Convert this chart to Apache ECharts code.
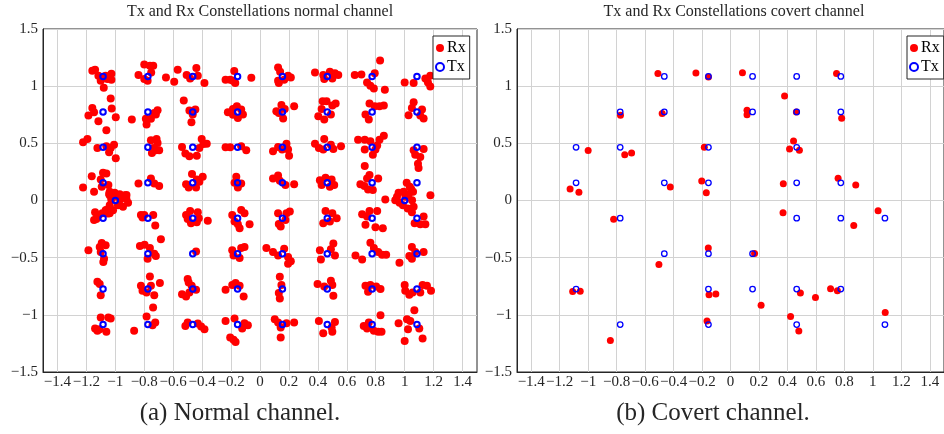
<!DOCTYPE html>
<html>
<head>
<meta charset="utf-8">
<script src="https://cdn.jsdelivr.net/npm/echarts@6/dist/echarts.min.js"></script>
<style>
html,body{margin:0;padding:0;background:#fff;}
#chart{width:944px;height:434px;}
</style>
</head>
<body>
<div id="chart"></div>
<script>
const titles = ['Tx and Rx Constellations normal channel', 'Tx and Rx Constellations covert channel'];
const captions = ['(a) Normal channel.', '(b) Covert channel.'];
const legendNames = ['Rx', 'Tx'];
const xTicks = [-1.4, -1.2, -1, -0.8, -0.6, -0.4, -0.2, 0, 0.2, 0.4, 0.6, 0.8, 1, 1.2, 1.4];
const yTicks = [-1.5, -1, -0.5, 0, 0.5, 1, 1.5];

const normalTx = [
  [-1.085,1.085],[-0.775,1.085],[-0.465,1.085],[-0.155,1.085],[0.155,1.085],[0.465,1.085],[0.775,1.085],[1.085,1.085],
  [-1.085,0.775],[-0.775,0.775],[-0.465,0.775],[-0.155,0.775],[0.155,0.775],[0.465,0.775],[0.775,0.775],[1.085,0.775],
  [-1.085,0.465],[-0.775,0.465],[-0.465,0.465],[-0.155,0.465],[0.155,0.465],[0.465,0.465],[0.775,0.465],[1.085,0.465],
  [-1.085,0.155],[-0.775,0.155],[-0.465,0.155],[-0.155,0.155],[0.155,0.155],[0.465,0.155],[0.775,0.155],[1.085,0.155],
  [-1,0],[1,0],
  [-1.085,-0.155],[-0.775,-0.155],[-0.465,-0.155],[-0.155,-0.155],[0.155,-0.155],[0.465,-0.155],[0.775,-0.155],[1.085,-0.155],
  [-1.085,-0.465],[-0.775,-0.465],[-0.465,-0.465],[-0.155,-0.465],[0.155,-0.465],[0.465,-0.465],[0.775,-0.465],[1.085,-0.465],
  [-1.085,-0.775],[-0.775,-0.775],[-0.465,-0.775],[-0.155,-0.775],[0.155,-0.775],[0.465,-0.775],[0.775,-0.775],[1.085,-0.775],
  [-1.085,-1.085],[-0.775,-1.085],[-0.465,-1.085],[-0.155,-1.085],[0.155,-1.085],[0.465,-1.085],[0.775,-1.085],[1.085,-1.085]
];

const normalRx = [
  [-1.159,1.135],[-1.14,1.143],[-1.117,1.091],[-1.101,1.047],[-1.055,1.062],[-1.027,1.108],[-1.027,1.056],[-1.08,0.986],[-1.067,1.091],
  [-0.8,1.19],[-0.761,1.178],[-0.738,1.178],[-0.84,1.097],[-0.8,1.062],[-0.777,1.047],[-0.752,1.12],[-0.65,1.076],[-0.593,1.038],
  [-0.569,1.143],[-0.507,1.097],[-0.483,1.067],[-0.44,1.158],[-0.43,1.091],[-0.384,1.027],
  [-0.238,1.056],[-0.206,1.056],[-0.178,1.132],[-0.171,1.027],[-0.06,1.073],[-0.187,1.047],
  [0.125,1.164],[0.139,1.126],[0.125,1.047],[0.13,1.027],[0.194,1.091],[0.213,1.076],[0.167,1.056],
  [0.38,1.12],[0.437,1.097],[0.444,1.062],[0.483,1.126],[0.518,1.114],[0.541,1.097],[0.5,1.067],
  [0.655,1.097],[0.701,1.103],[0.74,1.032],[0.763,1.003],[0.793,1.114],[0.787,0.98],[0.83,1.225],[0.863,0.968],
  [1.0,1.032],[1.062,1.027],[1.143,1.067],[1.161,1.032],[1.177,0.997],[1.177,1.091],

  [-1.032,0.892],[-1.159,0.81],[-1.147,0.772],[-1.186,0.743],[-1.117,0.693],[-1.062,0.614],[-1.025,0.804],[-0.997,0.728],
  [-0.886,0.708],[-0.789,0.714],[-0.784,0.664],[-0.754,0.714],[-0.731,0.766],[-0.708,0.79],[-0.72,0.752],
  [-0.527,0.874],[-0.488,0.787],[-0.465,0.752],[-0.474,0.684],[-0.447,0.795],
  [-0.222,0.772],[-0.187,0.801],[-0.16,0.825],[-0.13,0.795],[-0.153,0.722],[-0.187,0.749],[-0.118,0.752],
  [0.113,0.781],[0.13,0.766],[0.148,0.836],[0.171,0.801],[0.16,0.717],[0.236,0.825],
  [0.403,0.737],[0.433,0.868],[0.46,0.868],[0.426,0.801],[0.5,0.83],[0.523,0.848],[0.444,0.708],[0.49,0.752],
  [0.729,0.752],[0.752,0.708],[0.757,0.848],[0.793,0.825],[0.826,0.825],[0.856,0.83],
  [1.027,0.746],[1.05,0.81],[1.062,0.86],[1.108,0.743],[1.131,0.717],[1.12,0.795],

  [-1.223,0.509],[-1.193,0.538],[-1.124,0.459],[-1.062,0.474],[-1.043,0.421],[-1.009,0.488],[-0.997,0.369],[-1.032,0.459],
  [-0.754,0.526],[-0.715,0.538],[-0.708,0.503],[-0.738,0.459],[-0.72,0.439],[-0.697,0.439],[-0.747,0.415],
  [-0.539,0.468],[-0.516,0.41],[-0.488,0.386],[-0.437,0.392],[-0.403,0.538],[-0.391,0.494],[-0.368,0.497],[-0.419,0.459],
  [-0.238,0.465],[-0.206,0.465],[-0.13,0.474],[-0.095,0.439],
  [0.09,0.43],[0.125,0.468],[0.183,0.497],[0.194,0.445],[0.201,0.392],[0.153,0.445],
  [0.38,0.497],[0.407,0.459],[0.444,0.538],[0.437,0.445],[0.507,0.45],[0.56,0.474],[0.49,0.488],
  [0.678,0.532],[0.724,0.532],[0.724,0.445],[0.763,0.518],[0.81,0.48],[0.826,0.532],[0.856,0.567],[0.78,0.401],[0.798,0.445],
  [1.062,0.439],[1.073,0.401],[1.108,0.38],[1.131,0.45],[1.092,0.322],[1.096,0.284],

  [-1.223,0.114],[-1.163,0.213],[-1.147,0.076],[-1.101,0.184],[-1.094,0.12],[-1.085,0.243],[-1.062,0.237],[-1.048,0.135],[-1.043,0.056],
  [-0.84,0.149],[-0.754,0.193],[-0.731,0.149],[-0.697,0.126],
  [-0.511,0.143],[-0.493,0.114],[-0.47,0.231],[-0.437,0.184],[-0.396,0.208],[-0.442,0.114],[-0.419,0.164],
  [-0.164,0.208],[-0.153,0.114],[-0.13,0.149],[-0.176,0.155],
  [0.09,0.193],[0.125,0.219],[0.137,0.172],[0.176,0.135],[0.236,0.143],
  [0.414,0.178],[0.426,0.135],[0.453,0.199],[0.495,0.184],[0.513,0.135],[0.483,0.12],
  [0.694,0.143],[0.722,0.126],[0.74,0.193],[0.757,0.222],[0.747,0.097],[0.78,0.091],[0.817,0.193],[0.724,0.301],

  [-1.039,0.047],[-1.005,0.067],[-0.97,0.055],[-0.935,0.047],[-0.924,0.018],[-0.912,-0.02],[-0.947,-0.055],[-0.982,-0.041],
  [-1.039,-0.041],[-1.067,-0.085],[-1.051,-0.114],[-1.016,-0.085],[-0.965,0.009],[-1.028,0.009],[-0.988,0.032],[-1.039,0.077],[-0.923,0.048],
  [0.947,0.032],[0.958,0.067],[0.993,0.076],[1.028,0.055],[1.058,0.076],[1.051,0.003],[1.062,-0.055],[1.021,-0.07],
  [0.988,-0.041],[0.965,-0.02],[1.005,0.032],[0.866,0.009],[1.178,0.047],[0.935,0.003],[1.014,0.156],[1.035,0.12],[1.045,0.1],

  [-1.14,-0.102],[-1.131,-0.161],[-1.09,-0.111],[-1.062,-0.082],[-1.039,-0.062],[-1.039,-0.111],[-1.117,-0.132],[-1.147,-0.17],
  [-0.823,-0.126],[-0.8,-0.126],[-0.738,-0.126],[-0.724,-0.219],[-0.812,-0.149],
  [-0.511,-0.126],[-0.483,-0.091],[-0.43,-0.102],[-0.423,-0.155],[-0.437,-0.19],[-0.477,-0.199],[-0.361,-0.178],[-0.5,-0.161],
  [-0.192,-0.126],[-0.176,-0.184],[-0.153,-0.208],[-0.141,-0.243],[-0.13,-0.082],[-0.107,-0.111],[-0.072,-0.208],
  [0.125,-0.111],[0.183,-0.111],[0.206,-0.097],[0.13,-0.205],[0.143,-0.228],[0.176,-0.17],
  [0.453,-0.091],[0.5,-0.111],[0.53,-0.155],[0.437,-0.199],[0.483,-0.184],
  [0.706,-0.12],[0.74,-0.14],[0.757,-0.091],[0.81,-0.091],[0.729,-0.213],[0.798,-0.234],[0.849,-0.243],
  [1.05,-0.102],[1.069,-0.199],[1.108,-0.208],[1.143,-0.208],[1.131,-0.14],

  [-1.186,-0.436],[-1.108,-0.407],[-1.094,-0.372],[-1.067,-0.392],[-1.078,-0.509],[-1.083,-0.538],[-1.101,-0.45],
  [-0.83,-0.398],[-0.798,-0.386],[-0.761,-0.415],[-0.731,-0.465],[-0.72,-0.485],[-0.777,-0.509],[-0.685,-0.339],
  [-0.442,-0.445],
  [-0.192,-0.436],[-0.13,-0.415],[-0.107,-0.407],[-0.141,-0.503],[-0.183,-0.48],
  [0.044,-0.415],[0.09,-0.45],[0.125,-0.48],[0.167,-0.421],[0.194,-0.494],[0.213,-0.532],[0.194,-0.553],
  [0.414,-0.436],[0.421,-0.515],[0.507,-0.377],[0.49,-0.427],[0.518,-0.48],
  [0.66,-0.48],[0.706,-0.515],[0.763,-0.369],[0.787,-0.415],[0.817,-0.45],[0.844,-0.474],[0.872,-0.474],[0.964,-0.544],
  [1.032,-0.485],[1.05,-0.407],[1.073,-0.45],[1.131,-0.45],[1.05,-0.509],

  [-1.124,-0.711],[-1.108,-0.731],[-1.101,-0.828],
  [-0.761,-0.664],[-0.823,-0.746],[-0.812,-0.79],[-0.784,-0.804],[-0.731,-0.828],[-0.692,-0.722],[-0.754,-0.746],[-0.739,-0.936],
  [-0.539,-0.819],[-0.511,-0.839],[-0.488,-0.804],[-0.493,-0.717],[-0.472,-0.746],[-0.5,-0.687],[-0.442,-0.781],
  [-0.238,-0.781],[-0.192,-0.74],[-0.169,-0.722],[-0.141,-0.746],[-0.113,-0.839],
  [0.137,-0.667],[0.13,-0.81],[0.137,-0.857],[0.148,-0.74],
  [0.398,-0.731],[0.444,-0.752],[0.49,-0.702],[0.5,-0.74],[0.507,-0.833],
  [0.729,-0.746],[0.763,-0.74],[0.803,-0.752],[0.833,-0.775],[0.747,-0.798],
  [1.0,-0.74],[1.004,-0.79],[1.032,-0.825],[1.055,-0.804],[1.124,-0.74],[1.154,-0.746],[1.182,-0.79],[1.108,-0.804],

  [-1.101,-1.024],[-1.048,-1.024],[-1.032,-1.032],[-1.14,-1.12],[-1.124,-1.14],[-1.062,-1.149],[-1.108,-1.126],
  [-0.784,-1.015],[-0.724,-1.068],[-0.87,-1.14],[-0.743,-1.091],
  [-0.516,-1.097],[-0.5,-1.067],[-0.43,-1.076],[-0.407,-1.103],[-0.384,-1.126],
  [-0.238,-1.053],[-0.176,-1.032],[-0.107,-1.073],[-0.084,-1.091],[-0.123,-1.12],[-0.206,-1.199],[-0.183,-1.219],[-0.169,-1.237],
  [0.102,-1.038],[0.125,-1.068],[0.143,-1.111],[0.183,-1.073],[0.236,-1.068],[0.143,-1.199],
  [0.407,-1.053],[0.437,-1.161],[0.495,-1.111],[0.5,-1.149],[0.518,-1.062],
  [0.717,-1.097],[0.74,-1.12],[0.752,-1.068],[0.787,-1.14],[0.817,-1.149],[0.84,-1.149],[0.833,-1.003],
  [0.958,-1.073],[1.016,-1.038],[1.039,-1.053],[1.067,-0.959],[1.023,-1.126],[1.0,-1.228],[1.101,-1.12],[1.124,-1.208]
];

const covertTx = [
  [-0.465,1.085],[-0.155,1.085],[0.155,1.085],[0.465,1.085],[0.775,1.085],
  [-0.775,0.775],[-0.465,0.775],[0.155,0.775],[0.465,0.775],[0.775,0.775],
  [-1.085,0.465],[-0.775,0.465],[-0.155,0.465],[0.465,0.465],
  [-1.085,0.155],[-0.465,0.155],[-0.155,0.155],[0.465,0.155],[0.775,0.155],
  [-0.775,-0.155],[0.465,-0.155],[0.775,-0.155],[1.085,-0.155],
  [-0.465,-0.465],[-0.155,-0.465],[0.155,-0.465],
  [-1.085,-0.775],[-0.155,-0.775],[0.155,-0.775],[0.465,-0.775],[0.775,-0.775],
  [-0.775,-1.085],[-0.155,-1.085],[0.465,-1.085],[1.085,-1.085]
];

const covertRx = [
  [-0.51,1.11],[-0.243,1.115],[-0.155,1.08],[0.084,1.117],[0.745,1.11],[0.38,0.915],
  [-0.773,0.745],[-0.48,0.76],[0.116,0.79],[0.116,0.75],[0.463,0.775],[0.781,0.72],
  [-1.0,0.437],[-0.743,0.4],[-0.695,0.416],[-0.184,0.465],[0.443,0.521],[0.415,0.451],[0.484,0.44],
  [-1.127,0.1],[-1.065,0.072],[-0.423,0.118],[-0.202,0.171],[-0.17,0.068],[0.371,0.147],[0.756,0.194],[0.88,0.136],
  [-0.821,-0.165],[0.369,-0.107],[0.866,-0.218],[1.037,-0.089],
  [-0.156,-0.416],[-0.503,-0.56],[0.169,-0.463],
  [-1.109,-0.796],[-1.056,-0.793],[-0.151,-0.825],[-0.103,-0.817],[0.215,-0.916],[0.491,-0.81],[0.597,-0.848],[0.703,-0.772],[0.751,-0.79],
  [-0.165,-1.053],[0.422,-1.015],[0.48,-1.141],[1.087,-0.98],[-0.844,-1.225]
];

const FONT = '"Liberation Serif", "Times New Roman", serif';
const TXT = '#262626';

function fmt(v) {
  const s = String(Math.round(v * 10) / 10);
  return s.replace('-', '\u2212');
}

function makeGrid(left, width) {
  return { left: left, top: 29, width: width, height: 343, show: true,
           borderColor: '#262626', borderWidth: 1, backgroundColor: 'transparent' };
}
function makeX(gi) {
  return {
    type: 'value', gridIndex: gi, min: -1.5, max: 1.5,
    axisLine: { show: true, onZero: false, lineStyle: { color: '#262626', width: 1 } },
    axisTick: { show: false, customValues: xTicks },
    axisLabel: { customValues: xTicks, formatter: fmt, fontFamily: FONT, fontSize: 15, color: TXT, margin: 3 },
    splitLine: { show: true, lineStyle: { color: '#d2d2d2', width: 1 } }
  };
}
function makeY(gi) {
  return {
    type: 'value', gridIndex: gi, min: -1.5, max: 1.5,
    axisLine: { show: true, onZero: false, lineStyle: { color: '#262626', width: 1 } },
    axisTick: { show: false, customValues: yTicks },
    axisLabel: { customValues: yTicks, formatter: fmt, fontFamily: FONT, fontSize: 15, color: TXT, margin: 5 },
    splitLine: { show: true, lineStyle: { color: '#d2d2d2', width: 1 } }
  };
}
function makeLegend(left) {
  return {
    data: legendNames, orient: 'vertical', left: left, top: 36,
    padding: [4, 4, 4, 2], itemGap: 3, itemWidth: 8, itemHeight: 8,
    backgroundColor: '#fff', borderColor: '#262626', borderWidth: 1, borderRadius: 0,
    textStyle: { fontFamily: FONT, fontSize: 16, color: '#000', padding: [0, 0, 0, -2] },
    selectedMode: false
  };
}
function textEl(x, y, text, size) {
  return { type: 'text', x: x, y: y, silent: true,
           style: { text: text, textAlign: 'center', textVerticalAlign: 'middle',
                    font: size + 'px ' + FONT, fill: TXT } };
}

const chart = echarts.init(document.getElementById('chart'), null, { renderer: 'canvas' });
chart.setOption({
  animation: false,
  backgroundColor: '#fff',
  grid: [makeGrid(43, 434), makeGrid(517, 434)],
  xAxis: [makeX(0), makeX(1)],
  yAxis: [makeY(0), makeY(1)],
  legend: [makeLegend(433), makeLegend(907)],
  graphic: [
    textEl(260, 12, titles[0], 16),
    textEl(734, 12, titles[1], 16),
    textEl(240, 413, captions[0], 25),
    textEl(713, 413, captions[1], 25)
  ],
  series: [
    { type: 'scatter', name: 'Rx', xAxisIndex: 0, yAxisIndex: 0, data: normalRx, symbol: 'circle', symbolSize: 8,
      itemStyle: { color: '#ff0000', opacity: 1 }, z: 2, silent: true },
    { type: 'scatter', name: 'Tx', xAxisIndex: 0, yAxisIndex: 0, data: normalTx, symbol: 'circle', symbolSize: 5.5,
      itemStyle: { color: 'rgba(255,255,255,0)', borderColor: '#0000ff', borderWidth: 2, opacity: 1 }, z: 3, silent: true },
    { type: 'scatter', name: 'Rx', xAxisIndex: 1, yAxisIndex: 1, data: covertRx, symbol: 'circle', symbolSize: 7,
      itemStyle: { color: '#ff0000', opacity: 1 }, z: 2, silent: true },
    { type: 'scatter', name: 'Tx', xAxisIndex: 1, yAxisIndex: 1, data: covertTx, symbol: 'circle', symbolSize: 5.5,
      itemStyle: { color: 'rgba(255,255,255,0)', borderColor: '#0000ff', borderWidth: 1.3, opacity: 1 }, z: 3, silent: true }
  ]
});
</script>
</body>
</html>
